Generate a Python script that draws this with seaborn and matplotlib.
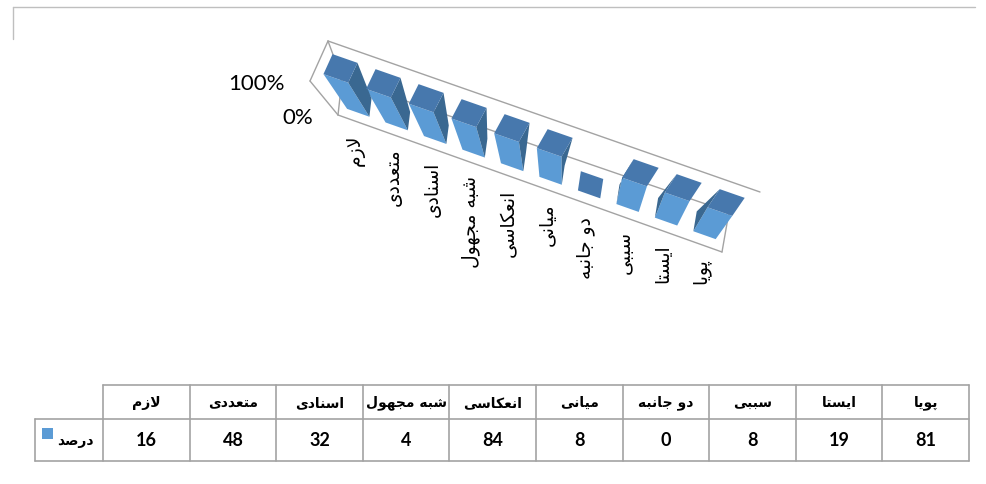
import numpy as np
import pandas as pd
import matplotlib
matplotlib.use("Agg")
import matplotlib.pyplot as plt
import seaborn as sns
from matplotlib import transforms as mtransforms
from matplotlib.patches import Polygon, Rectangle

# ---------------------------------------------------------------- data
categories = ["لازم", "متعددی", "اسنادی", "شبه مجهول", "انعکاسی",
              "میانی", "دو جانبه", "سببی", "ایستا", "پویا"]
values = [16, 48, 32, 4, 84, 8, 0, 8, 19, 81]
series_name = "درصد"
y_ticks = [0, 100]
y_tick_labels = ["0%", "100%"]

# ---------------------------------------------------------------- style
W, H = 987, 485
FRONT = "#5B9BD5"
TOP = "#4778AD"
SIDE = "#3A6891"
GRID = "#A3A3A3"
AR_FONT = ["DejaVu Sans"]
LAT_FONT = ["Lato", "DejaVu Sans"]

sns.set_style("white")
plt.rcParams["font.family"] = LAT_FONT

# ---------------------------------------------------------------- Persian shaping
# (isolated, final, initial, medial) presentation forms
FORMS = {
    "ا": (0xFE8D, 0xFE8E, None, None),
    "ب": (0xFE8F, 0xFE90, 0xFE91, 0xFE92),
    "پ": (0xFB56, 0xFB57, 0xFB58, 0xFB59),
    "ت": (0xFE95, 0xFE96, 0xFE97, 0xFE98),
    "ج": (0xFE9D, 0xFE9E, 0xFE9F, 0xFEA0),
    "د": (0xFEA9, 0xFEAA, None, None),
    "ر": (0xFEAD, 0xFEAE, None, None),
    "ز": (0xFEAF, 0xFEB0, None, None),
    "س": (0xFEB1, 0xFEB2, 0xFEB3, 0xFEB4),
    "ش": (0xFEB5, 0xFEB6, 0xFEB7, 0xFEB8),
    "ص": (0xFEB9, 0xFEBA, 0xFEBB, 0xFEBC),
    "ع": (0xFEC9, 0xFECA, 0xFECB, 0xFECC),
    "ک": (0xFB8E, 0xFB8F, 0xFB90, 0xFB91),
    "ل": (0xFEDD, 0xFEDE, 0xFEDF, 0xFEE0),
    "م": (0xFEE1, 0xFEE2, 0xFEE3, 0xFEE4),
    "ن": (0xFEE5, 0xFEE6, 0xFEE7, 0xFEE8),
    "ه": (0xFEE9, 0xFEEA, 0xFEEB, 0xFEEC),
    "و": (0xFEED, 0xFEEE, None, None),
    "ی": (0xFBFC, 0xFBFD, 0xFBFE, 0xFBFF),
}


def shape(text):
    """Join Persian letters and return them in visual (left-to-right) order."""
    chars = list(text)
    out = []
    i = 0
    while i < len(chars):
        c = chars[i]
        if c not in FORMS:
            out.append(c)
            i += 1
            continue
        prev = chars[i - 1] if i > 0 else None
        joins_prev = prev in FORMS and FORMS[prev][2] is not None
        if c == "ل" and i + 1 < len(chars) and chars[i + 1] == "ا":
            out.append(chr(0xFEFC if joins_prev else 0xFEFB))
            i += 2
            continue
        nxt = chars[i + 1] if i + 1 < len(chars) else None
        iso, fin, ini, med = FORMS[c]
        joins_next = ini is not None and nxt in FORMS
        if joins_prev and joins_next:
            g = med
        elif joins_prev:
            g = fin
        elif joins_next:
            g = ini
        else:
            g = iso
        out.append(chr(g))
        i += 1
    return "".join(reversed(out))


# ---------------------------------------------------------------- 3-D box projection
# corners of the plot box in pixels, keyed by (u, d, w):
# u = along categories, d = back(0)->front(1), w = value 0..1
CORNERS = {
    (0, 0, 1): (328, 42), (0, 1, 1): (310, 82),
    (0, 1, 0): (338, 116), (0, 0, 0): (342, 80),
    (1, 0, 1): (760, 193), (1, 1, 1): (735, 229),
    (1, 1, 0): (722, 253), (1, 0, 0): (729, 213),
}
D_BACK, D_FRONT = 0.25, 0.75
n = len(categories)


def project(u, d, w):
    p = np.zeros(2)
    for (cu, cd, cw), xy in CORNERS.items():
        k = (u if cu else 1 - u) * (d if cd else 1 - d) * (w if cw else 1 - w)
        p += k * np.asarray(xy, float)
    return p


def u_of(xcat):
    return (xcat + 0.5) / n


def to_fig(p):
    return p[0] / W, 1 - p[1] / H


class Projection(mtransforms.Transform):
    input_dims = 2
    output_dims = 2
    is_separable = False
    has_inverse = False

    def __init__(self, func):
        super().__init__()
        self._func = func

    def transform_non_affine(self, values):
        vals = np.asarray(values, float)
        pts = vals.reshape(-1, 2)
        out = np.array([to_fig(self._func(a, b)) for a, b in pts])
        return out.reshape(vals.shape)


def signed_area(pts):
    pts = np.asarray(pts)
    x, y = pts[:, 0], pts[:, 1]
    return 0.5 * np.sum(x * np.roll(y, -1) - np.roll(x, -1) * y)


# ---------------------------------------------------------------- figure
fig = plt.figure(figsize=(W / 100, H / 100), dpi=100, facecolor="white")

# background layer in pixel coordinates: box walls, labels, data table
bg = fig.add_axes([0, 0, 1, 1], zorder=0)
bg.set_xlim(0, W)
bg.set_ylim(H, 0)
bg.set_axis_off()

# outer chart frame
bg.plot([13, 975], [8, 8], color="#BFBFBF", lw=1.0)
bg.plot([13, 13], [8, 40], color="#BFBFBF", lw=1.0)

edges = [((0, 0, 1), (1, 0, 1)), ((0, 0, 0), (1, 0, 0)),
         ((0, 0, 1), (0, 1, 1)), ((0, 1, 1), (0, 1, 0)),
         ((0, 1, 0), (0, 0, 0)), ((0, 0, 1), (0, 0, 0)),
         ((0, 1, 0), (1, 1, 0)), ((1, 1, 0), (1, 0, 0))]
for a, b in edges:
    pa, pb = project(*a), project(*b)
    bg.plot([pa[0], pb[0]], [pa[1], pb[1]], color=GRID, lw=1.0,
            solid_capstyle="round")

# value axis labels
for v, lab in zip(y_ticks, y_tick_labels):
    p = project(0, 1, v / 100)
    bg.text(p[0] - 25, p[1] + 2, lab, ha="right", va="center",
            fontsize=16, color="black")

# category labels along the front edge of the floor
for i, cat in enumerate(categories):
    p = project(u_of(i), 1, 0)
    bg.text(p[0] - 2, p[1] + 12, shape(cat), rotation=90, ha="center", va="top",
            fontsize=13.5, family=AR_FONT, color="black")

# ---------------------------------------------------------------- bars (seaborn)
ax = fig.add_axes([0, 0, 1, 1], zorder=1)
ax.set_axis_off()
ax.patch.set_visible(False)

df = pd.DataFrame({"category": categories, "value": values})
totals = df.groupby("category")["value"].transform("sum")
df["share"] = df["value"].div(totals.where(totals > 0)).fillna(0) * 100

sns.barplot(data=df, x="category", y="share", order=categories, color=FRONT,
            saturation=1, width=0.58, errorbar=None, ax=ax)

front_tr = Projection(lambda x, v: project(u_of(x), D_FRONT, v / 100)) + fig.transFigure

for p in list(ax.patches):
    x0 = p.get_x()
    x1 = x0 + p.get_width()
    w = p.get_height() / 100
    p.set_transform(front_tr)
    p.set_clip_on(False)
    p.set_edgecolor("none")
    p.set_linewidth(0)

    if w > 0:
        for xs, sign in ((x1, 1), (x0, -1)):
            quad = [project(u_of(xs), D_BACK, 0), project(u_of(xs), D_FRONT, 0),
                    project(u_of(xs), D_FRONT, w), project(u_of(xs), D_BACK, w)]
            if sign * signed_area(quad) > 0:
                side_tr = Projection(
                    lambda d, ww, xs=xs: project(u_of(xs), d, ww)) + fig.transFigure
                side = Polygon([(D_BACK, 0), (D_FRONT, 0), (D_FRONT, w), (D_BACK, w)],
                               closed=True, transform=side_tr, facecolor=SIDE,
                               edgecolor="none", clip_on=False)
                ax.add_artist(side)

    top_tr = Projection(lambda x, d, w=w: project(u_of(x), d, w)) + fig.transFigure
    top = Polygon([(x0, D_BACK), (x1, D_BACK), (x1, D_FRONT), (x0, D_FRONT)],
                  closed=True, transform=top_tr, facecolor=TOP,
                  edgecolor="none", clip_on=False)
    ax.add_artist(top)

# ---------------------------------------------------------------- data table
col_edges = np.linspace(103, 969, n + 1)
row_top, row_mid, row_bot = 386, 420, 462
legend_left = 35
tkw = dict(color=GRID, lw=1.2)
bg.plot([col_edges[0], col_edges[-1]], [row_top, row_top], **tkw)
bg.plot([legend_left, col_edges[-1]], [row_mid, row_mid], **tkw)
bg.plot([legend_left, col_edges[-1]], [row_bot, row_bot], **tkw)
for x in col_edges:
    bg.plot([x, x], [row_top, row_bot], **tkw)
bg.plot([legend_left, legend_left], [row_mid, row_bot], **tkw)

for i, (cat, val) in enumerate(zip(categories, values)):
    cx = (col_edges[i] + col_edges[i + 1]) / 2
    bg.text(cx, (row_top + row_mid) / 2, shape(cat), ha="center", va="center",
            fontsize=10, fontweight="bold", family=AR_FONT, color="black")
    bg.text(cx, (row_mid + row_bot) / 2, str(val), ha="center", va="center",
            fontsize=13, fontweight="bold", color="black")

bg.add_patch(Rectangle((42, 429), 11, 11, facecolor=FRONT, edgecolor="none"))
bg.text(57, (row_mid + row_bot) / 2, shape(series_name), ha="left", va="center",
        fontsize=10, fontweight="bold", family=AR_FONT, color="black")

fig.savefig("out.png", dpi=100, facecolor="white")
